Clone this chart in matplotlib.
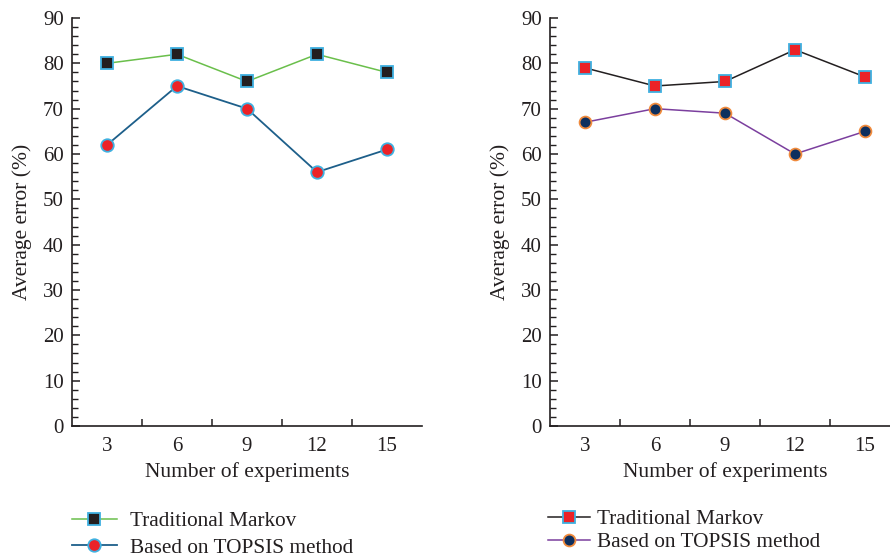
import matplotlib
matplotlib.use("Agg")
import matplotlib.pyplot as plt
from matplotlib.ticker import MultipleLocator, FixedLocator

plt.rcParams['font.family'] = ['Liberation Serif', 'DejaVu Serif']

categories = ["3", "6", "9", "12", "15"]
left_traditional = [80, 82, 76, 82, 78]
left_topsis = [62, 75, 70, 56, 61]
right_traditional = [79, 75, 76, 83, 77]
right_topsis = [67, 70, 69, 60, 65]
series_names = ["Traditional Markov", "Based on TOPSIS method"]
xlabel = "Number of experiments"
ylabel = "Average error (%)"

dark = "#231f20"
fig = plt.figure(figsize=(8.9, 5.58), dpi=100)

def style_axes(ax):
    x = list(range(len(categories)))
    ax.set_xlim(-0.5, len(categories) - 0.5)
    ax.set_ylim(0, 90)
    ax.set_xticks(x)
    ax.set_xticklabels(categories)
    ax.xaxis.set_minor_locator(FixedLocator([i + 0.5 for i in x[:-1]]))
    ax.yaxis.set_major_locator(MultipleLocator(10))
    ax.yaxis.set_minor_locator(MultipleLocator(2))
    ax.tick_params(axis='x', which='major', length=0, pad=8, labelsize=15, colors=dark)
    ax.tick_params(axis='x', which='minor', length=5, width=1.1, direction='in', color=dark)
    ax.tick_params(axis='y', which='major', length=6, width=1.1, direction='in', pad=6, labelsize=15, colors=dark)
    ax.tick_params(axis='y', which='minor', length=4, width=1.0, direction='in', color=dark)
    for s in ['top', 'right']:
        ax.spines[s].set_visible(False)
    for s in ['left', 'bottom']:
        ax.spines[s].set_linewidth(1.2)
        ax.spines[s].set_color(dark)
    ax.set_xlabel(xlabel, fontsize=15.5, color=dark, labelpad=4)
    ax.set_ylabel(ylabel, fontsize=15.5, color=dark, labelpad=8)
    ax.patch.set_alpha(0)
    return x

axL = fig.add_axes([72/890, 132/558, 350/890, 408/558])
x = style_axes(axL)
l1, = axL.plot(x, left_traditional, color="#6abf4b", lw=1.1, marker='s', ms=8.5,
               mfc=dark, mec="#3fb0e0", mew=1.3, clip_on=False)
l2, = axL.plot(x, left_topsis, color="#1d5f8a", lw=1.3, marker='o', ms=9,
               mfc="#ec2227", mec="#3fb0e0", mew=1.3, clip_on=False)

axR = fig.add_axes([550/890, 132/558, 350/890, 408/558])
x = style_axes(axR)
r1, = axR.plot(x, right_traditional, color=dark, lw=1.1, marker='s', ms=8.5,
               mfc="#ec2227", mec="#3fb0e0", mew=1.3, clip_on=False)
r2, = axR.plot(x, right_topsis, color="#7b3f9e", lw=1.1, marker='o', ms=8.5,
               mfc="#0d2f5e", mec="#f08a3c", mew=1.3, clip_on=False)

fig.legend([l1, l2], series_names, loc='upper left', bbox_to_anchor=(63/890, 1 - 503/558),
           frameon=False, fontsize=15.3, handlelength=2.15, handletextpad=0.6,
           labelspacing=0.3, borderaxespad=0, labelcolor=dark)
fig.legend([r1, r2], series_names, loc='upper left', bbox_to_anchor=(539/890, 1 - 501/558),
           frameon=False, fontsize=15.3, handlelength=2.0, handletextpad=0.35,
           labelspacing=0.15, borderaxespad=0, labelcolor=dark)

fig.savefig("out.png", dpi=100)
